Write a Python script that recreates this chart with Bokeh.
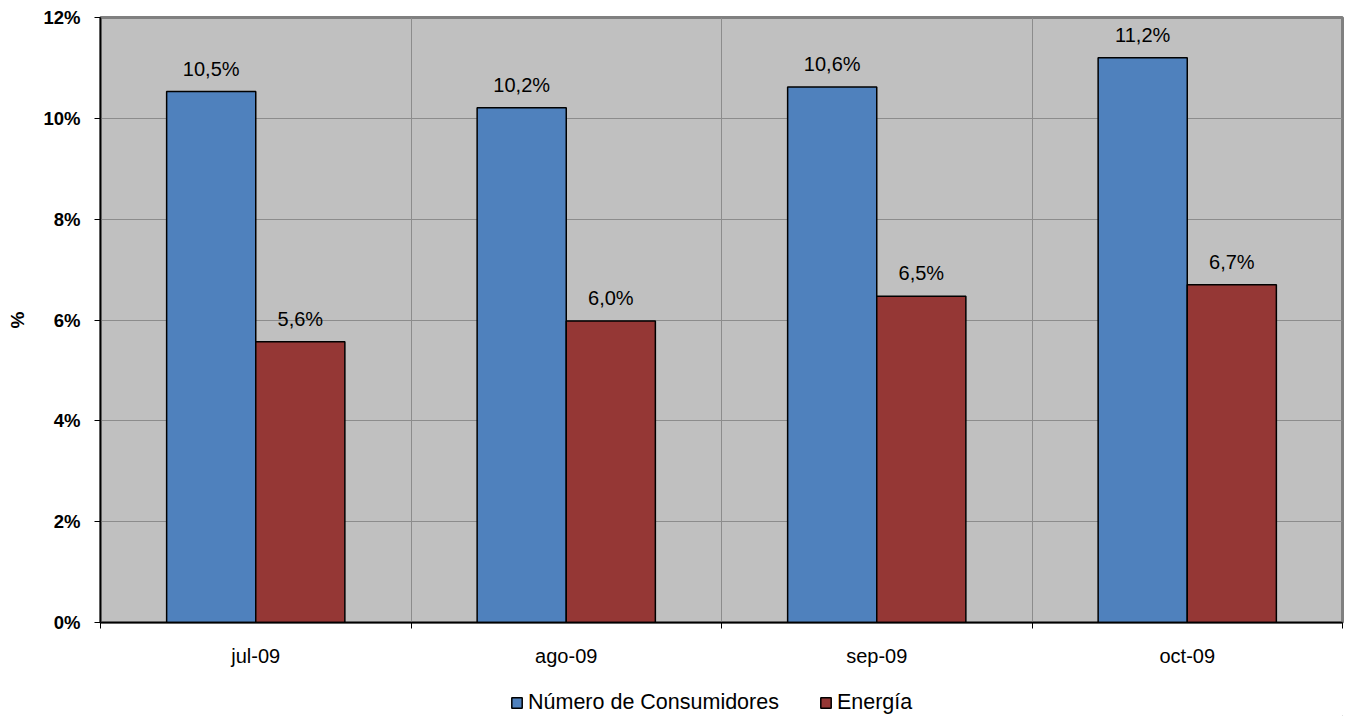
from bokeh.plotting import figure
from bokeh.layouts import column
from bokeh.models import (ColumnDataSource, FixedTicker, PrintfTickFormatter, Legend, LegendItem, Range1d)
from bokeh.transform import dodge
from bokeh.core.properties import value
from bokeh.embed import file_html
from bokeh.resources import INLINE

months = ["jul-09", "ago-09", "sep-09", "oct-09"]
consumidores = [10.53, 10.21, 10.62, 11.2]
energia = [5.57, 5.98, 6.47, 6.7]
series_names = ["Número de Consumidores", "Energía"]
y_ticks = [0, 2, 4, 6, 8, 10, 12]

FONT = "Liberation Sans"
BLUE = "#4F81BD"
RED = "#953735"

centers = [i + 0.5 for i in range(len(months))]
def fmt(v):
    return f"{v:.1f}".replace(".", ",") + "%"

src = ColumnDataSource(dict(
    x=centers,
    c=consumidores,
    e=energia,
    cl=[fmt(v) for v in consumidores],
    el=[fmt(v) for v in energia],
))

p = figure(frame_width=1242, frame_height=605, output_backend="svg", toolbar_location=None,
           x_range=Range1d(0, len(months)), y_range=Range1d(0, 12),
           min_border_left=100, min_border_right=3, min_border_top=17, min_border_bottom=62)
p.background_fill_color = "#C0C0C0"
p.border_fill_color = "white"
p.outline_line_color = "#808080"
p.outline_line_width = 3

W = 0.287
p.vbar(x=dodge("x", -0.1435, range=p.x_range), top="c", width=W, source=src,
       fill_color=BLUE, line_color="black", line_width=1.5)
p.vbar(x=dodge("x", 0.1435, range=p.x_range), top="e", width=W, source=src,
       fill_color=RED, line_color="black", line_width=1.5)

for col, lab, off in (("c", "cl", -0.1435), ("e", "el", 0.1435)):
    p.text(x=dodge("x", off, range=p.x_range), y=col, text=lab, source=src,
           text_font=value(FONT), text_font_size="20px", text_align="center",
           text_baseline="bottom", y_offset=-12, text_color="black")

# x axis
xa = p.xaxis[0]
xa.ticker = FixedTicker(ticks=centers, minor_ticks=list(range(len(months) + 1)))
xa.major_label_overrides = {c: m for c, m in zip(centers, months)}
xa.major_tick_out = 0
xa.major_tick_in = 0
xa.minor_tick_out = 6
xa.minor_tick_in = 0
xa.minor_tick_line_color = "black"
xa.axis_line_color = "black"
xa.axis_line_width = 1.5
xa.major_label_text_font = FONT
xa.major_label_text_font_size = "20px"
xa.major_label_text_color = "black"
xa.major_label_standoff = 16

# y axis
ya = p.yaxis[0]
ya.ticker = FixedTicker(ticks=y_ticks)
ya.formatter = PrintfTickFormatter(format="%d%%")
ya.major_tick_out = 6
ya.major_tick_in = 0
ya.minor_tick_line_color = None
ya.axis_line_color = "black"
ya.axis_line_width = 1.5
ya.major_label_text_font = FONT
ya.major_label_text_font_size = "18.5px"
ya.major_label_text_font_style = "bold"
ya.major_label_text_color = "black"
ya.major_label_standoff = 14
ya.axis_label = "%"
ya.axis_label_text_font = FONT
ya.axis_label_text_font_size = "19px"
ya.axis_label_text_font_style = "bold"
ya.axis_label_text_color = "black"
ya.axis_label_standoff = 12

p.xgrid.ticker = FixedTicker(ticks=list(range(1, len(months))))
p.xgrid.grid_line_color = "#8C8C8C"
p.xgrid.grid_line_width = 1
p.ygrid.grid_line_color = "#8C8C8C"
p.ygrid.grid_line_width = 1

# legend strip (swatch renderers sit outside the visible range; only their legend glyphs show)
lf = figure(width=1345, height=32, output_backend="svg", toolbar_location=None,
            x_range=Range1d(0, 1), y_range=Range1d(0, 1),
            min_border=0, outline_line_color=None)
lf.axis.visible = False
lf.grid.visible = False
k1 = lf.vbar(x=[5], top=[0], width=0.1, fill_color=BLUE, line_color="black", line_width=1.5)
k2 = lf.vbar(x=[5], top=[0], width=0.1, fill_color=RED, line_color="black", line_width=1.5)
legend = Legend(items=[LegendItem(label=series_names[0], renderers=[k1]),
                       LegendItem(label=series_names[1], renderers=[k2])],
                orientation="horizontal", location=(410, 1),
                label_text_font=FONT, label_text_font_size="21.5px",
                label_text_color="black", label_height=22,
                glyph_width=13, glyph_height=13, label_standoff=5, spacing=40,
                border_line_color=None, background_fill_alpha=0, margin=0, padding=0)
lf.add_layout(legend, "center")

layout = column(p, lf, spacing=0)
open("out.html", "w").write(file_html(layout, INLINE))
